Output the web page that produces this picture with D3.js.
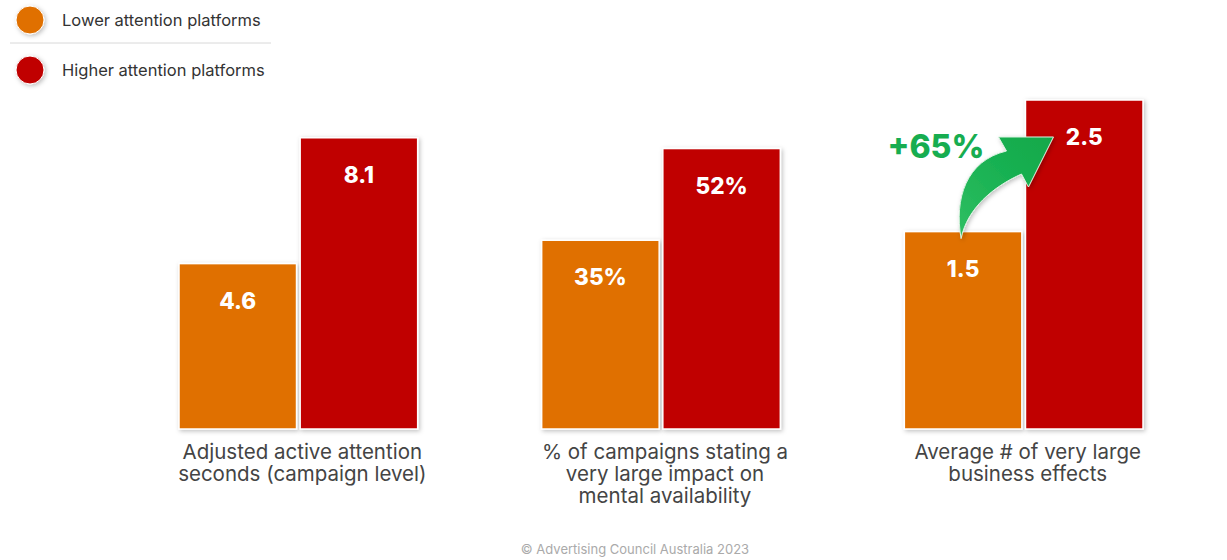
<!doctype html>
<html lang="en">
<head>
    <meta charset="utf-8">
    <title>Attention platforms</title>
    <script src="https://d3js.org/d3.v7.min.js"></script>
    <style>
        html, body { margin: 0; padding: 0; background: #fff; }
        svg { display: block; }
    </style>
</head>
<body>
<script>
    // data
    const categories = [
        ["Adjusted active attention", "seconds (campaign level)"],
        ["% of campaigns stating a", "very large impact on", "mental availability"],
        ["Average # of very large", "business effects"]
    ]
    const series = ["Lower attention platforms", "Higher attention platforms"]
    const lowerValues = [4.6, 35, 1.5]
    const higherValues = [8.1, 52, 2.5]
    const valueLabels = [["4.6", "8.1"], ["35%", "52%"], ["1.5", "2.5"]]
    // each group is measured in its own unit, so each gets its own axis top
    const groupAxisMax = [9.15, 61, 2.5]
    const upliftLabel = "+65%"
    const footer = "\u00a9 Advertising Council Australia 2023"

    const width = 1227
    const height = 560
    const baseY = 429

    const colors = ["#e07000", "#c00000"]

    const svg = d3.select("body").append("svg")
        .attr("width", width)
        .attr("height", height)
        .attr("font-family", "Inter, 'Noto Sans', sans-serif")

    const defs = svg.append("defs")
    const shadow = defs.append("filter").attr("id", "shadow")
        .attr("x", "-20%").attr("y", "-20%").attr("width", "140%").attr("height", "140%")
    shadow.append("feDropShadow")
        .attr("dx", 1.5).attr("dy", 1.5).attr("stdDeviation", 2)
        .attr("flood-color", "#000").attr("flood-opacity", 0.25)

    const grad = defs.append("linearGradient").attr("id", "arrowGrad")
        .attr("x1", "0%").attr("y1", "100%").attr("x2", "100%").attr("y2", "0%")
    grad.append("stop").attr("offset", "0%").attr("stop-color", "#2fbf62")
    grad.append("stop").attr("offset", "55%").attr("stop-color", "#19b152")
    grad.append("stop").attr("offset", "100%").attr("stop-color", "#11a84a")

    const x0 = d3.scaleBand()
        .domain(d3.range(categories.length))
        .range([117, 1205])

    const x1 = d3.scaleBand()
        .domain(series)
        .range([62, x0.bandwidth() - 62])
        .paddingInner(0.03)

    const yScales = groupAxisMax.map(m => d3.scaleLinear().domain([0, m]).range([baseY, 100]))

    // baseline
    svg.append("line")
        .attr("x1", 88).attr("x2", width)
        .attr("y1", baseY + 1).attr("y2", baseY + 1)
        .attr("stroke", "#b8b8b8").attr("stroke-width", 2)
        .attr("filter", "url(#shadow)")

    const rows = categories.map((c, i) => ({
        i: i,
        values: [lowerValues[i], higherValues[i]],
        labels: valueLabels[i]
    }))

    const group = svg.append("g")
        .selectAll("g")
        .data(rows)
        .join("g")
        .attr("transform", d => `translate(${x0(d.i)},0)`)

    const bars = group.selectAll("g")
        .data(d => d.values.map((v, k) => ({ g: d.i, k: k, v: v, label: d.labels[k] })))
        .join("g")

    bars.append("rect")
        .attr("x", d => x1(series[d.k]))
        .attr("width", x1.bandwidth())
        .attr("y", d => yScales[d.g](d.v))
        .attr("height", d => baseY - yScales[d.g](d.v))
        .attr("fill", d => colors[d.k])
        .attr("stroke", "#fff")
        .attr("stroke-width", 1.5)
        .attr("filter", "url(#shadow)")

    bars.append("text")
        .attr("x", d => x1(series[d.k]) + x1.bandwidth() / 2)
        .attr("y", d => yScales[d.g](d.v) + 45)
        .attr("text-anchor", "middle")
        .attr("fill", "#fff")
        .attr("font-size", 22.5)
        .attr("font-weight", 800)
        .text(d => d.label)

    // category labels
    const labelX = x0.bandwidth() / 2 + 4
    group.append("text")
        .attr("x", labelX)
        .attr("y", 459)
        .attr("text-anchor", "middle")
        .attr("fill", "#444")
        .attr("font-size", 20.5)
        .selectAll("tspan")
        .data(d => categories[d.i])
        .join("tspan")
        .attr("x", labelX)
        .attr("dy", (d, i) => i === 0 ? 0 : 22)
        .text(d => d)

    // uplift arrow on last group
    const last = categories.length - 1
    const sx = x0(last) + x1(series[0]) + x1.bandwidth() / 2 - 2
    const sy = yScales[last](lowerValues[last]) + 7
    const ex = x0(last) + x1(series[1]) + 28
    const ey = yScales[last](higherValues[last]) + 37

    const arrow = d3.path()
    arrow.moveTo(sx, sy)
    arrow.bezierCurveTo(sx - 7, sy - 40, sx + 5, sy - 78, ex - 47, ey + 14)
    arrow.lineTo(ex - 55, ey)
    arrow.lineTo(ex, ey)
    arrow.lineTo(ex - 25, ey + 50)
    arrow.lineTo(ex - 32, ey + 37)
    arrow.bezierCurveTo(sx + 32, sy - 52, sx + 6, sy - 30, sx, sy)
    arrow.closePath()

    svg.append("path")
        .attr("d", arrow.toString())
        .attr("fill", "url(#arrowGrad)")
        .attr("stroke", "#d9f2e0")
        .attr("stroke-width", 1)
        .attr("filter", "url(#shadow)")

    svg.append("text")
        .attr("x", ex - 166)
        .attr("y", ey + 21)
        .attr("fill", "#17ad50")
        .attr("font-size", 32)
        .attr("font-weight", 800)
        .text(upliftLabel)

    // legend
    const legend = svg.append("g")
        .selectAll("g")
        .data(series)
        .join("g")
        .attr("transform", (d, i) => `translate(30,${20 + i * 50})`)

    legend.append("circle")
        .attr("r", 14)
        .attr("fill", (d, i) => colors[i])
        .attr("stroke", "#fff")
        .attr("stroke-width", 1)
        .attr("filter", "url(#shadow)")

    legend.append("text")
        .attr("x", 32)
        .attr("dy", "0.35em")
        .attr("fill", "#333")
        .attr("font-size", 16.5)
        .text(d => d)

    svg.append("line")
        .attr("x1", 10).attr("x2", 271)
        .attr("y1", 43).attr("y2", 43)
        .attr("stroke", "#d8d8d8").attr("stroke-width", 1)

    // footer
    svg.append("text")
        .attr("x", 635)
        .attr("y", 554)
        .attr("text-anchor", "middle")
        .attr("fill", "#aaa")
        .attr("font-size", 13)
        .text(footer)
</script>
</body>
</html>
